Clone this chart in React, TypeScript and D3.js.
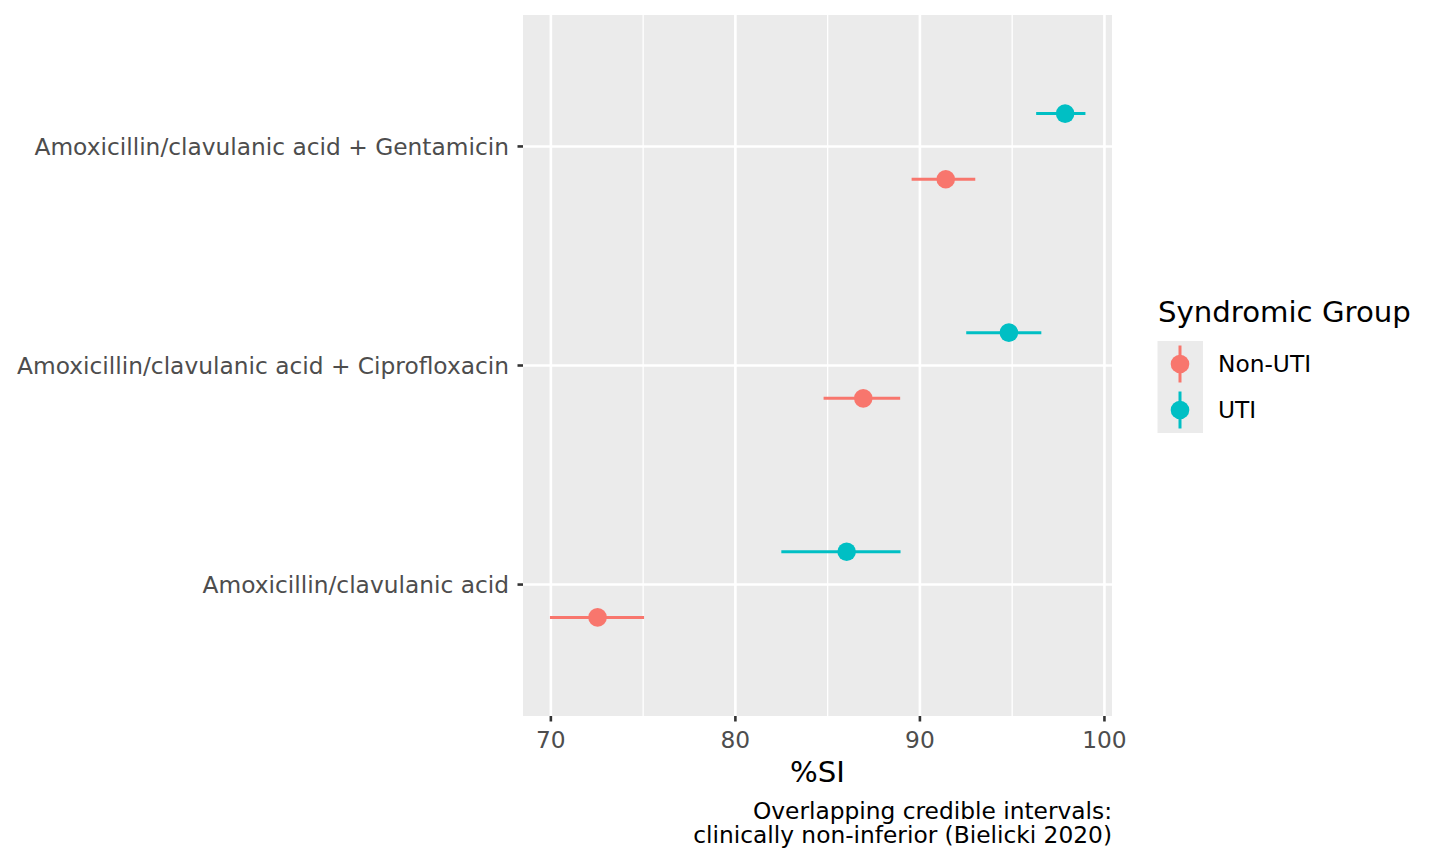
import React from "react";
import * as d3 from "d3";

const categories = [
  "Amoxicillin/clavulanic acid + Gentamicin",
  "Amoxicillin/clavulanic acid + Ciprofloxacin",
  "Amoxicillin/clavulanic acid",
];
const groups = ["Non-UTI", "UTI"];
const groupColors = ["#F8766D", "#00BFC4"];

const nonUtiMid = [91.4, 86.93, 72.53];
const nonUtiLo = [89.55, 84.78, 69.95];
const nonUtiHi = [93.0, 88.93, 75.05];

const utiMid = [97.87, 94.82, 86.03];
const utiLo = [96.3, 92.51, 82.49];
const utiHi = [98.97, 96.58, 88.95];

const xTicks = [70, 80, 90, 100];
const xMinor = [75, 85, 95];

const FONT = "'DejaVu Sans', sans-serif";
const SMALL = 23.3;
const BIG = 29.2;

export default function App() {
  const W = 1440, H = 864;
  const pL = 523, pR = 1112, pT = 15, pB = 716;
  const x = d3.scaleLinear().domain([68.49, 100.41]).range([pL, pR]);
  const y = d3.scaleLinear().domain([0.4, 3.6]).range([pB, pT]);
  const catPos = (i: number) => categories.length - i;
  const dodge = 0.15;

  const series = [
    { name: groups[0], color: groupColors[0], mid: nonUtiMid, lo: nonUtiLo, hi: nonUtiHi, off: -dodge },
    { name: groups[1], color: groupColors[1], mid: utiMid, lo: utiLo, hi: utiHi, off: dodge },
  ];

  return (
    <svg width={W} height={H} style={{ position: "absolute", left: 0, top: 0, background: "#fff" }} fontFamily={FONT}>
      <rect x={pL} y={pT} width={pR - pL} height={pB - pT} fill="#EBEBEB" />
      {xMinor.map((v) => (
        <line key={"mn" + v} x1={x(v)} x2={x(v)} y1={pT} y2={pB} stroke="#fff" strokeWidth={1.3} />
      ))}
      {xTicks.map((v) => (
        <line key={"mj" + v} x1={x(v)} x2={x(v)} y1={pT} y2={pB} stroke="#fff" strokeWidth={2.6} />
      ))}
      {categories.map((c, i) => (
        <line key={"hy" + i} x1={pL} x2={pR} y1={y(catPos(i))} y2={y(catPos(i))} stroke="#fff" strokeWidth={2.6} />
      ))}
      {series.map((s) =>
        categories.map((c, i) => {
          const yy = y(catPos(i) + s.off);
          return (
            <g key={s.name + i}>
              <line x1={x(s.lo[i])} x2={x(s.hi[i])} y1={yy} y2={yy} stroke={s.color} strokeWidth={3} />
              <circle cx={x(s.mid[i])} cy={yy} r={9.3} fill={s.color} />
            </g>
          );
        })
      )}
      {categories.map((c, i) => (
        <g key={"yl" + i}>
          <line x1={pL - 5.5} x2={pL} y1={y(catPos(i))} y2={y(catPos(i))} stroke="#333333" strokeWidth={2.6} />
          <text x={pL - 14} y={y(catPos(i))} dy="0.35em" textAnchor="end" fontSize={SMALL} fill="#4D4D4D">
            {c}
          </text>
        </g>
      ))}
      {xTicks.map((v) => (
        <g key={"xl" + v}>
          <line x1={x(v)} x2={x(v)} y1={pB} y2={pB + 5.5} stroke="#333333" strokeWidth={2.6} />
          <text x={x(v)} y={748} textAnchor="middle" fontSize={SMALL} fill="#4D4D4D">
            {v}
          </text>
        </g>
      ))}
      <text x={(pL + pR) / 2} y={782} textAnchor="middle" fontSize={BIG} fill="#000">
        %SI
      </text>
      <text x={pR} y={819} textAnchor="end" fontSize={SMALL} fill="#000">
        Overlapping credible intervals:
      </text>
      <text x={pR} y={843} textAnchor="end" fontSize={SMALL} fill="#000">
        clinically non-inferior (Bielicki 2020)
      </text>
      <text x={1158} y={322} fontSize={BIG} fill="#000">
        Syndromic Group
      </text>
      {series.map((s, k) => {
        const ky = 341 + k * 46;
        const cx = 1180;
        return (
          <g key={"lg" + k}>
            <rect x={1157.5} y={ky} width={45.5} height={46} fill="#EBEBEB" />
            <line x1={cx} x2={cx} y1={ky + 4.5} y2={ky + 41.5} stroke={s.color} strokeWidth={3} />
            <circle cx={cx} cy={ky + 23} r={9.3} fill={s.color} />
            <text x={1218} y={ky + 23} dy="0.35em" fontSize={SMALL} fill="#000">
              {s.name}
            </text>
          </g>
        );
      })}
    </svg>
  );
}
